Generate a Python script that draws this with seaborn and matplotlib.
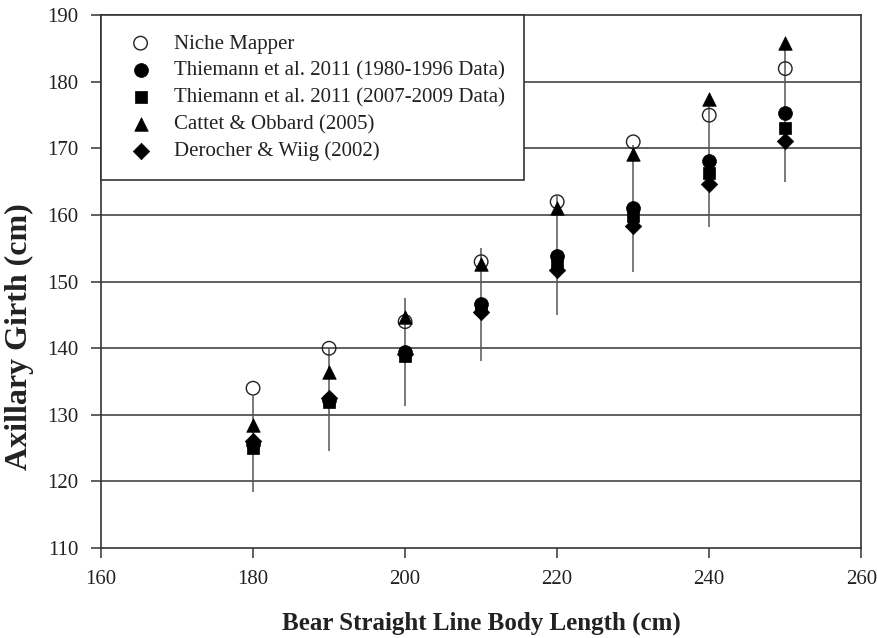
import matplotlib
matplotlib.use("Agg")
import matplotlib.pyplot as plt
import seaborn as sns
import pandas as pd
import numpy as np

# ---- data ----
body_length = [180, 190, 200, 210, 220, 230, 240, 250]
niche_mapper = [134.0, 140.0, 144.0, 153.0, 162.0, 171.0, 175.0, 182.0]
thiemann_1980 = [125.6, 132.3, 139.4, 146.6, 153.9, 161.0, 168.1, 175.4]
thiemann_1980_err = [7.2, 7.7, 8.1, 8.5, 8.9, 9.5, 9.9, 10.4]
thiemann_2007 = [125.0, 132.0, 138.9, 146.0, 153.0, 159.8, 166.3, 173.1]
cattet = [128.5, 136.5, 144.7, 152.7, 161.0, 169.2, 177.5, 185.8]
derocher = [126.0, 132.5, 139.1, 145.5, 151.8, 158.4, 164.7, 171.1]

series_names = [
    "Niche Mapper",
    "Thiemann et al. 2011 (1980-1996 Data)",
    "Thiemann et al. 2011 (2007-2009 Data)",
    "Cattet & Obbard (2005)",
    "Derocher & Wiig (2002)",
]
series_values = [niche_mapper, thiemann_1980, thiemann_2007, cattet, derocher]

x_ticks = [160, 180, 200, 220, 240, 260]
y_ticks = [110, 120, 130, 140, 150, 160, 170, 180, 190]

# ---- style ----
sns.set_theme(style="ticks")
plt.rcParams["font.family"] = ["Liberation Serif", "DejaVu Serif"]

fig = plt.figure(figsize=(8.78, 6.38), dpi=100)
ax = fig.add_axes([0.115, 0.141, 0.866, 0.835])

df = pd.DataFrame({
    "x": np.tile(body_length, len(series_names)),
    "y": np.concatenate(series_values),
    "Source": np.repeat(series_names, len(body_length)),
})

# error bars (Thiemann 1980-1996)
ax.errorbar(body_length, thiemann_1980, yerr=thiemann_1980_err, fmt="none",
            ecolor="#555555", elinewidth=1.1, capsize=0, zorder=2)

marker_map = {
    series_names[0]: ("o", 95, "none"),
    series_names[1]: ("o", 100, "black"),
    series_names[2]: ("s", 70, "black"),
    series_names[3]: ("^", 95, "black"),
    series_names[4]: ("D", 70, "black"),
}

for name in series_names:
    mk, size, face = marker_map[name]
    sub = df[df["Source"] == name]
    if face == "none":
        sns.scatterplot(data=sub, x="x", y="y", ax=ax, marker=mk, s=size,
                        facecolors="none", edgecolor="#222222", linewidth=1.0,
                        label=name, zorder=3)
    else:
        sns.scatterplot(data=sub, x="x", y="y", ax=ax, marker=mk, s=size,
                        color="black", edgecolor="black", linewidth=0.5,
                        label=name, zorder=4)

ax.set_xlim(160, 260)
ax.set_ylim(110, 190)
ax.set_xticks(x_ticks)
ax.set_yticks(y_ticks)
ax.set_xticklabels([str(t) for t in x_ticks])
ax.set_yticklabels([str(t) for t in y_ticks])

for yv in y_ticks[1:-1]:
    ax.axhline(yv, color="#444444", linewidth=1.2, zorder=1)

for sp in ax.spines.values():
    sp.set_visible(True)
    sp.set_color("#333333")
    sp.set_linewidth(1.2)

ax.tick_params(axis="both", direction="out", length=7, width=1.1,
               color="#333333", labelsize=15, labelcolor="#222222", pad=9)

ax.set_xlabel("Bear Straight Line Body Length (cm)", fontsize=18,
              fontweight="bold", labelpad=16, color="#222222")
ax.set_ylabel("Axillary Girth (cm)", fontsize=23, fontweight="bold",
              color="#222222")
ax.yaxis.set_label_coords(-0.088, 0.396)

handles, labels = ax.get_legend_handles_labels()
leg = ax.legend(handles, labels, loc="upper left", bbox_to_anchor=(0, 1),
                borderaxespad=0, frameon=True, fancybox=False, framealpha=1,
                edgecolor="#333333", fontsize=15, borderpad=0.9,
                handletextpad=0.6, handlelength=2.0, labelspacing=0.35)
leg.get_frame().set_linewidth(1.2)
leg.set_zorder(10)
for t in leg.get_texts():
    t.set_color("#222222")

fig.savefig("out.png", dpi=100)
